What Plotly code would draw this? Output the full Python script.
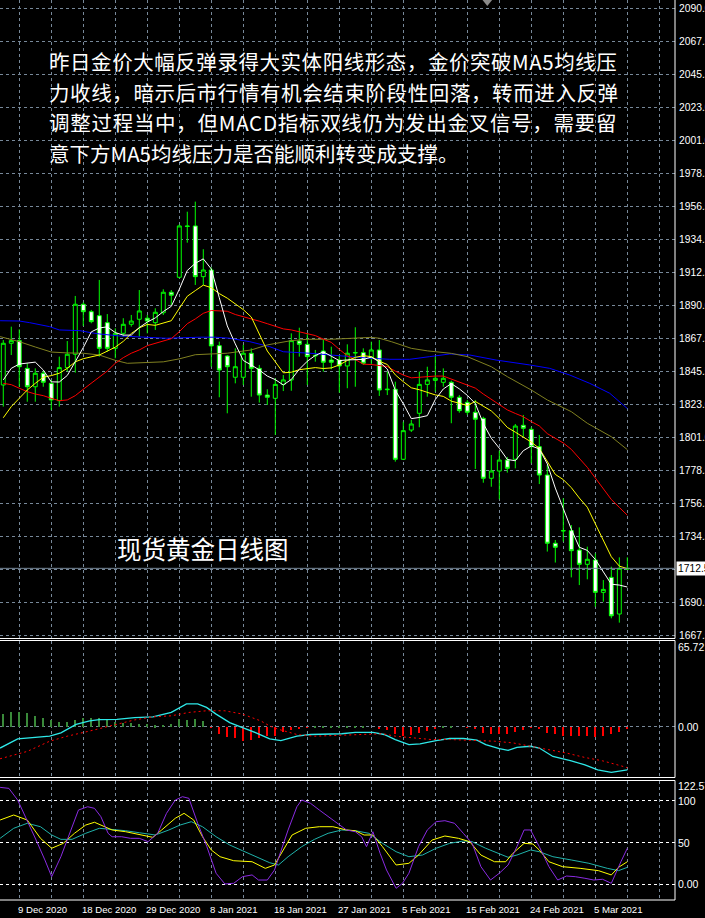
import plotly.graph_objects as go

# ---------------- data ----------------
bar_idx = list(range(79))
open_ = [1836.4, 1864.5, 1866.3, 1847.6, 1835.2, 1844.3, 1837.5, 1825.8, 1848.1, 1857.1,
         1890.8, 1885.8, 1883.1, 1878.4, 1861.1, 1871.2, 1877.3, 1880.7, 1881.4, 1878.4,
         1885.1, 1898.9, 1909.0, 1943.6, 1943.6, 1909.4, 1913.9, 1862.9, 1855.9, 1841.6,
         1841.6, 1857.8, 1847.6, 1829.6, 1827.4, 1836.8, 1839.8, 1866.0, 1863.8, 1856.3,
         1859.3, 1853.2, 1853.2, 1849.2, 1858.0, 1858.2, 1855.0, 1860.0, 1833.2, 1833.5,
         1786.3, 1806.0, 1817.3, 1836.8, 1839.5, 1838.2, 1838.2, 1828.1, 1824.7, 1818.0,
         1813.9, 1773.5, 1778.4, 1785.8, 1786.3, 1809.2, 1806.5, 1794.8, 1775.7, 1729.7,
         1738.0, 1738.2, 1725.1, 1715.5, 1718.4, 1696.6, 1706.7, 1682.0, 1712.8]
high = [1866.7, 1875.7, 1873.9, 1851.0, 1847.6, 1845.8, 1839.8, 1855.5, 1866.0, 1896.4,
        1892.1, 1887.0, 1907.2, 1884.2, 1874.6, 1881.4, 1883.6, 1900.4, 1883.6, 1888.1,
        1900.9, 1900.4, 1944.5, 1953.2, 1960.0, 1927.9, 1915.7, 1865.6, 1856.6, 1861.1,
        1863.4, 1861.1, 1849.9, 1833.5, 1841.0, 1843.1, 1871.2, 1875.0, 1871.2, 1860.0,
        1866.7, 1862.2, 1856.6, 1863.8, 1875.3, 1861.1, 1865.6, 1866.7, 1845.4, 1838.6,
        1811.6, 1812.8, 1845.4, 1848.7, 1855.5, 1847.6, 1839.3, 1829.6, 1826.3, 1826.3,
        1815.0, 1789.2, 1792.1, 1787.8, 1810.1, 1816.2, 1807.9, 1802.7, 1782.5, 1731.9,
        1760.0, 1742.0, 1740.4, 1727.4, 1722.9, 1704.9, 1713.9, 1720.2, 1720.2]
low = [1821.8, 1856.6, 1835.2, 1825.1, 1825.1, 1835.2, 1819.5, 1821.8, 1845.4, 1844.7,
       1876.2, 1878.0, 1855.5, 1858.8, 1854.4, 1868.9, 1875.7, 1868.9, 1871.2, 1873.5,
       1883.6, 1890.3, 1908.3, 1932.3, 1903.8, 1903.8, 1848.7, 1828.1, 1817.3, 1837.5,
       1836.4, 1828.5, 1824.5, 1822.9, 1802.7, 1832.3, 1832.5, 1855.5, 1836.4, 1852.1,
       1845.4, 1847.0, 1831.2, 1834.2, 1835.2, 1849.9, 1849.9, 1829.0, 1829.6, 1784.7,
       1785.8, 1804.7, 1807.9, 1828.5, 1831.9, 1835.2, 1810.6, 1817.7, 1816.2, 1779.8,
       1770.5, 1767.8, 1759.3, 1777.3, 1780.2, 1801.5, 1783.6, 1769.6, 1724.1, 1716.7,
       1730.8, 1706.7, 1701.5, 1705.4, 1686.9, 1690.3, 1679.1, 1676.2, 1712.0]
close = [1864.5, 1866.3, 1848.7, 1835.2, 1844.3, 1838.2, 1826.3, 1848.1, 1857.1, 1890.8,
         1885.8, 1879.1, 1861.1, 1861.1, 1871.2, 1877.3, 1879.5, 1886.3, 1879.5, 1885.4,
         1898.9, 1896.9, 1943.6, 1943.3, 1909.4, 1913.9, 1862.7, 1846.5, 1848.7, 1848.7,
         1857.8, 1847.6, 1829.6, 1828.1, 1836.8, 1839.8, 1866.3, 1863.8, 1855.5, 1856.1,
         1851.7, 1851.7, 1849.2, 1857.8, 1858.2, 1851.0, 1860.0, 1833.0, 1833.5, 1786.3,
         1805.6, 1810.1, 1836.8, 1839.8, 1840.9, 1840.9, 1828.1, 1819.1, 1818.0, 1813.3,
         1773.5, 1778.4, 1785.8, 1780.2, 1808.7, 1807.2, 1794.8, 1775.7, 1729.7, 1727.0,
         1738.2, 1724.7, 1715.5, 1718.9, 1696.6, 1698.6, 1680.8, 1712.8, 1712.4]

ma5 = [1839.8, 1847.6, 1850.5, 1851.0, 1851.8, 1846.5, 1838.5, 1838.4, 1842.8, 1852.1,
       1861.6, 1872.2, 1874.8, 1875.6, 1871.7, 1870.0, 1870.0, 1875.1, 1878.8, 1881.6,
       1885.9, 1889.4, 1900.9, 1913.6, 1918.4, 1921.4, 1914.6, 1895.2, 1876.2, 1864.1,
       1852.9, 1849.9, 1846.5, 1842.4, 1840.0, 1836.4, 1840.1, 1847.0, 1852.4, 1856.3,
       1858.7, 1855.8, 1852.8, 1853.3, 1853.7, 1853.6, 1855.2, 1852.0, 1847.1, 1832.8,
       1823.7, 1813.7, 1814.5, 1815.7, 1826.6, 1833.7, 1837.3, 1833.8, 1829.4, 1823.9,
       1810.4, 1800.5, 1793.8, 1786.2, 1785.3, 1792.1, 1795.3, 1793.3, 1783.2, 1766.9,
       1753.1, 1739.1, 1727.0, 1724.9, 1718.8, 1710.9, 1702.1, 1701.5, 1700.2]
ma10 = [1814.3, 1821.8, 1827.4, 1833.0, 1837.5, 1841.6, 1842.7, 1844.3, 1847.6, 1852.0,
        1854.1, 1855.4, 1856.6, 1859.2, 1861.9, 1865.8, 1871.1, 1874.9, 1877.2, 1876.6,
        1877.9, 1879.7, 1888.0, 1896.2, 1900.0, 1903.7, 1902.0, 1898.0, 1894.9, 1891.3,
        1887.2, 1882.2, 1870.8, 1859.3, 1852.0, 1844.6, 1845.0, 1846.7, 1847.4, 1848.1,
        1847.5, 1847.9, 1849.9, 1852.9, 1855.0, 1856.1, 1855.5, 1852.4, 1850.2, 1843.2,
        1838.6, 1834.5, 1833.2, 1831.4, 1829.7, 1828.7, 1825.5, 1824.1, 1822.6, 1825.3,
        1822.1, 1818.9, 1813.8, 1807.8, 1804.6, 1801.2, 1797.9, 1793.6, 1784.7, 1776.1,
        1772.6, 1767.2, 1760.2, 1754.0, 1742.8, 1732.0, 1720.6, 1714.3, 1712.6]
ma20 = [1837.5, 1836.6, 1834.2, 1831.9, 1830.3, 1829.2, 1827.4, 1825.8, 1826.3, 1829.2,
        1833.5, 1837.5, 1841.3, 1845.8, 1851.0, 1854.8, 1857.8, 1860.0, 1862.9, 1864.3,
        1866.0, 1867.6, 1872.3, 1877.7, 1880.9, 1884.7, 1886.6, 1886.5, 1886.1, 1883.9,
        1882.5, 1881.0, 1879.4, 1877.7, 1876.0, 1874.2, 1873.5, 1872.4, 1871.2, 1869.7,
        1867.3, 1865.1, 1860.4, 1856.1, 1853.5, 1850.4, 1850.2, 1849.6, 1848.8, 1845.7,
        1843.1, 1841.2, 1841.6, 1842.2, 1842.4, 1842.4, 1840.5, 1838.3, 1836.4, 1834.3,
        1830.3, 1826.7, 1823.5, 1819.6, 1817.2, 1815.0, 1811.7, 1808.8, 1803.6, 1800.7,
        1797.3, 1793.0, 1787.0, 1780.9, 1773.7, 1766.6, 1759.2, 1753.9, 1748.6]

olive_x = [-0.4, 2, 4, 6, 8, 10, 12, 14, 15.5, 18, 20, 22, 24, 26, 28, 31, 33, 36, 38,
           41, 43, 46, 47, 48.5, 51, 53, 56, 58, 61, 63, 66, 68, 71, 73, 76, 78]
olive_ma = [1869.0, 1865.6, 1862.0, 1858.6, 1858.0, 1857.8, 1856.6, 1853.0, 1851.0,
            1851.5, 1852.0, 1854.0, 1856.8, 1857.3, 1857.8, 1860.0, 1863.4, 1866.3,
            1867.2, 1867.2, 1867.9, 1868.5, 1867.9, 1865.6, 1861.1, 1859.4, 1857.7,
            1855.5, 1848.7, 1842.0, 1833.0, 1826.3, 1818.4, 1810.6, 1801.5, 1792.8]
blue_x = [-0.4, 2, 3.3, 4.6, 5.8, 7, 9.6, 11, 12, 14.6, 16.3, 18.3, 20.4, 24.6, 26.5,
          28.3, 30.8, 33.3, 35, 38.3, 40.8, 43.3, 45.8, 48.3, 50.8, 53.3, 55.8, 58.3,
          61.6, 65.8, 68.3, 70.8, 73.3, 75.8, 78]
blue_ma = [1879.7, 1879.5, 1878.4, 1876.8, 1875.7, 1873.5, 1873.0, 1871.6, 1870.8,
           1869.4, 1869.0, 1868.3, 1867.9, 1868.6, 1868.6, 1867.9, 1865.6, 1862.2,
           1858.8, 1857.8, 1856.6, 1855.5, 1854.4, 1853.7, 1853.7, 1855.5, 1857.3,
           1856.6, 1853.2, 1849.9, 1847.6, 1843.1, 1837.5, 1830.8, 1820.5]

macd_x = [-0.4, 1.8, 5.8, 7.2, 9.1, 10.8, 12, 14.2, 16.4, 18.7, 21, 22.1, 22.9, 24.3,
          25.4, 26.6, 28.3, 29.9, 31.6, 33.3, 34.7, 36.7, 38.4, 42.3, 44, 46.2, 47.6,
          49, 50.7, 52.1, 54.1, 55.8, 57.5, 59.2, 60.3, 62, 63.1, 64.2, 65.9, 67, 68.7,
          71, 72.7, 74.3, 76, 78]
macd_line = [-16.7, -9.6, -7.5, -4.9, 1.7, 4.3, 5.4, 5.6, 6.9, 7.5, 10.9, 14.8, 17.5,
             17.5, 14.8, 9.6, 3.0, -0.9, -4.9, -9.6, -10.9, -7.5, -6.2, -5.6, -4.6, -4.6,
             -6.2, -10.1, -14.0, -13.5, -10.9, -9.3, -9.3, -10.6, -14.0, -17.2, -18.5,
             -16.1, -15.3, -16.7, -23.2, -26.6, -29.8, -33.7, -35.5, -33.7]
signal_x = [-0.4, 3, 5.8, 8, 10.8, 14.2, 16.4, 18.7, 21, 23.2, 25.4, 27.7, 29.9, 32.2,
            33.3, 34.4, 36.7, 38.9, 42.3, 45.7, 47.4, 49, 51.3, 53.5, 55.8, 59.2, 61.4,
            63.7, 65.9, 68.2, 70.4, 72.7, 74.9, 77.1, 78]
signal_line = [-25.0, -19.3, -11.4, -7.5, -3.5, 1.7, 5.1, 7.5, 8.3, 10.9, 12.2, 12.2,
               9.6, 4.3, 0.4, -2.2, -6.2, -7.5, -6.7, -5.6, -5.6, -7.5, -8.8, -10.1,
               -10.1, -10.9, -11.4, -12.7, -15.3, -17.9, -20.6, -24.0, -26.6, -30.3, -31.9]
macd_hist = [10.0, 11.3, 11.8, 10.5, 8.9, 6.6, 5.2, 3.9, 3.9, 5.8, 6.8, 7.3, 6.6, 5.2,
             4.2, 3.1, 3.1, 2.1, 2.1, 1.3, 1.8, 2.6, 6.3, 5.8, 6.0, 4.7, -0.5, -5.2, -7.9,
             -8.4, -10.5, -10.0, -8.4, -7.3, -6.6, -3.9, -2.6, -1.3, -0.5, 0.3, 0.5, 0.5,
             0.3, 0.5, 0.5, 0.3, 0.0, -1.3, -2.6, -5.2, -6.6, -6.0, -4.7, -3.1, -1.3, 0.5,
             0.5, 0.0, -0.5, -1.3, -4.7, -5.2, -5.2, -5.8, -3.9, -2.1, -0.5, -1.3, -4.7,
             -5.8, -6.6, -7.1, -7.1, -7.3, -7.9, -6.8, -5.8, -3.9, -1.5]

k_x = [-0.4, 0.7, 1.8, 3.0, 4.1, 5.2, 6.05, 7.2, 8.3, 9.4, 10.55, 11.4, 12.2, 13.1, 13.6,
       14.8, 15.9, 17.0, 18.1, 19.3, 20.4, 21.5, 22.4, 23.2, 24.3, 25.45, 26.6, 27.7,
       28.8, 29.9, 31.1, 31.9, 33.0, 33.9, 35.6, 36.7, 37.3, 38.4, 39.5, 40.6, 41.75,
       42.9, 44.0, 44.8, 45.4, 46.2, 47.1, 47.9, 49.1, 49.9, 50.7, 51.9, 53.0, 54.1,
       55.2, 56.4, 57.5, 58.6, 59.7, 60.9, 62.0, 63.1, 64.2, 65.1, 65.9, 67.0, 68.2,
       69.3, 70.4, 71.5, 72.7, 73.8, 74.9, 76.0, 77.2, 78.0]
stoch_k = [116.0, 114.8, 100.8, 76.9, 53.0, 29.1, 9.1, 33.0, 61.0, 88.9, 92.8, 90.9,
           80.9, 61.0, 56.9, 56.9, 55.0, 55.0, 51.0, 61.0, 84.9, 100.8, 104.8, 102.9,
           73.0, 45.0, 13.2, 0.4, 1.2, 9.1, 11.2, 5.1, 5.1, 17.1, 65.0, 92.8, 100.8,
           96.9, 88.9, 80.9, 73.0, 65.0, 62.9, 56.9, 45.0, 62.9, 37.1, 17.1, -4.8, 1.2,
           13.2, 45.0, 65.0, 74.9, 76.1, 73.0, 61.0, 49.0, 21.1, 5.1, 13.2, 23.1, 45.0,
           65.0, 65.0, 45.0, 21.1, 5.1, 9.9, 9.1, 7.2, 5.1, 6.0, 1.2, 27.0, 43.1]
d_x = [-0.4, 1.3, 3.0, 4.65, 6.05, 7.5, 8.9, 10.3, 11.4, 12.5, 13.6, 15.3, 17.0, 18.7,
       19.8, 21.5, 22.6, 23.8, 24.9, 26.0, 27.1, 28.8, 31.1, 32.75, 33.9, 35.0, 36.1,
       37.8, 39.5, 41.2, 42.9, 44.0, 45.1, 46.2, 47.4, 49.1, 50.7, 51.9, 53.6, 55.2,
       56.9, 58.3, 59.7, 61.4, 62.8, 63.7, 65.1, 66.2, 67.0, 68.2, 69.9, 72.1, 74.4,
       76.0, 76.9, 78.0]
stoch_d = [76.9, 82.9, 76.9, 55.0, 43.1, 49.0, 61.0, 70.9, 74.2, 69.7, 65.0, 62.9, 59.8,
           56.2, 65.0, 79.0, 84.9, 76.9, 56.9, 41.0, 33.0, 28.2, 27.0, 19.1, 23.1, 41.0,
           59.0, 67.0, 68.9, 68.9, 65.0, 64.1, 59.0, 59.0, 45.0, 23.1, 25.1, 35.0, 53.0,
           57.8, 55.0, 51.0, 35.0, 27.0, 27.0, 37.1, 49.0, 48.2, 41.0, 27.0, 21.1, 19.1,
           16.3, 11.2, 20.3, 27.0]
s_x = [-0.4, 1.3, 3.0, 4.65, 6.05, 7.2, 8.6, 10.3, 12.0, 13.6, 15.3, 17.0, 19.0, 20.7,
       22.1, 23.5, 24.9, 26.6, 28.3, 29.9, 31.6, 33.3, 34.4, 35.6, 37.3, 38.9, 40.6,
       42.3, 44.0, 45.7, 47.4, 49.1, 50.7, 52.4, 54.1, 55.8, 57.5, 58.6, 60.3, 62.0,
       63.1, 64.2, 65.9, 67.0, 68.7, 71.0, 73.2, 75.5, 76.9, 78.0]
stoch_s = [55.0, 67.0, 73.0, 68.9, 59.0, 53.8, 53.8, 61.0, 67.0, 65.8, 64.1, 61.7, 59.0,
           65.0, 70.9, 74.9, 68.9, 56.9, 47.0, 40.2, 33.0, 25.8, 23.1, 33.0, 45.0, 53.8,
           61.0, 65.0, 64.1, 61.0, 49.0, 39.0, 33.0, 35.0, 43.1, 49.0, 51.8, 51.0, 43.1,
           36.2, 32.3, 35.0, 41.0, 39.0, 33.0, 29.1, 25.1, 19.1, 16.3, 20.3]

price_ticks = [1667.5, 1689.75, 1712.0, 1734.25, 1756.5, 1778.75, 1801.0, 1823.25,
               1845.5, 1867.75, 1890.0, 1912.25, 1934.5, 1956.75, 1979.0, 2001.25,
               2023.5, 2045.75, 2068.0, 2090.25]
price_labels = ["1667.5", "1690.0", "", "1734.5", "1756.5", "1778.5", "1801.0", "1823.0",
                "1845.5", "1867.5", "1890.0", "1912.5", "1934.5", "1956.5", "1978.5",
                "2001.0", "2023.0", "2045.5", "2067.5", "2090.0"]
last_price = 1712.8
last_price_label = "1712.52"
date_idx = [-6, 2, 10, 18, 26, 34, 42, 50, 58, 66, 74]
date_labels = ["30 Nov 2020", "9 Dec 2020", "18 Dec 2020", "29 Dec 2020", "8 Jan 2021",
               "18 Jan 2021", "27 Jan 2021", "5 Feb 2021", "15 Feb 2021", "24 Feb 2021",
               "5 Mar 2021"]
grid_idx = list(range(2, 84, 4))
macd_labels = [(65.72, "65.72", -5), (0.0, "0.00", 0), (-39.73, "-39.73", 5)]
stoch_labels = [(122.57, "122.57", -4), (100, "100", 0), (50, "50", 0), (0, "0.00", 0),
                (-19.17, "-19.17", 10)]

text_lines = ["昨日金价大幅反弹录得大实体阳线形态，金价突破MA5均线压",
              "力收线，暗示后市行情有机会结束阶段性回落，转而进入反弹",
              "调整过程当中，但MACD指标双线仍为发出金叉信号，需要留",
              "意下方MA5均线压力是否能顺利转变成支撑。"]
text_spacing = [0.55, 0.6, 0.72, 0.0]
chart_title = "现货黄金日线图"

# ---------------- layout geometry ----------------
W, H = 705, 918
ML, MR, MT, MB = 0, 30, 0, 18
PW, PH = W - ML - MR, H - MT - MB
def py(p):  # pixel row -> paper y
    return 1 - p / PH
def px(p):  # pixel col -> paper x
    return p / PW

GRID = "#778899"
XR = [-0.41, 83.96]

fig = go.Figure()

fig.add_trace(go.Candlestick(
    x=bar_idx, open=open_, high=high, low=low, close=close,
    increasing=dict(line=dict(color="#00ff00", width=1), fillcolor="#000000"),
    decreasing=dict(line=dict(color="#00ff00", width=1), fillcolor="#ffffff"),
    whiskerwidth=0, xaxis="x", yaxis="y", hoverinfo="skip", showlegend=False))

for xs, ys, col in [(blue_x, blue_ma, "#0000ff"), (olive_x, olive_ma, "#808020"),
                    (bar_idx, ma20, "#ff0000"), (bar_idx, ma10, "#ffff00"),
                    (bar_idx, ma5, "#ffffff")]:
    fig.add_trace(go.Scatter(x=xs, y=ys, mode="lines", line=dict(color=col, width=1),
                             xaxis="x", yaxis="y", hoverinfo="skip", showlegend=False))

fig.add_trace(go.Bar(x=bar_idx, y=macd_hist, width=0.13,
                     marker=dict(color=["#3a8a3a" if v >= 0 else "#ff0000" for v in macd_hist],
                                 line=dict(width=0)),
                     xaxis="x2", yaxis="y2", hoverinfo="skip", showlegend=False))
fig.add_trace(go.Scatter(x=macd_x, y=macd_line, mode="lines", line=dict(color="#2ee8e8", width=1.3),
                         xaxis="x2", yaxis="y2", hoverinfo="skip", showlegend=False))
fig.add_trace(go.Scatter(x=signal_x, y=signal_line, mode="lines",
                         line=dict(color="#ff0000", width=1, dash="2px,3px"),
                         xaxis="x2", yaxis="y2", hoverinfo="skip", showlegend=False))

for xs, ys, col in [(s_x, stoch_s, "#20b2aa"), (d_x, stoch_d, "#ffff00"), (k_x, stoch_k, "#8a2be2")]:
    fig.add_trace(go.Scatter(x=xs, y=ys, mode="lines", line=dict(color=col, width=1),
                             xaxis="x3", yaxis="y3", hoverinfo="skip", showlegend=False))

main_dom = [py(638.5), 1]
macd_dom = [py(777.5), py(640.5)]
st_dom = [0, py(780.5)]

xcommon = dict(range=XR, showticklabels=False, tickvals=grid_idx, showgrid=True,
               gridcolor=GRID, griddash="3px,3px", gridwidth=1, zeroline=False,
               showline=False, ticks="", fixedrange=True)
fig.update_layout(
    width=W, height=H, margin=dict(l=ML, r=MR, t=MT, b=MB, autoexpand=False),
    paper_bgcolor="#000000", plot_bgcolor="#000000", showlegend=False,
    bargap=0,
    xaxis=dict(**xcommon, domain=[0, 1], anchor="y", rangeslider=dict(visible=False)),
    xaxis2=dict(**xcommon, domain=[0, 1], anchor="y2"),
    xaxis3=dict(**xcommon, domain=[0, 1], anchor="y3"),
    yaxis=dict(domain=main_dom, range=[1665.5, 2095.9], tickvals=price_ticks,
               showticklabels=False, showgrid=True, gridcolor=GRID, griddash="3px,3px",
               zeroline=False, anchor="x", side="right", fixedrange=True),
    yaxis2=dict(domain=macd_dom, range=[-39.53, 66.67], tickvals=[0], showticklabels=False,
                showgrid=True, gridcolor=GRID, griddash="3px,3px", zeroline=False,
                anchor="x2", fixedrange=True),
    yaxis3=dict(domain=st_dom, range=[-18.8, 124.2], tickvals=[0, 50, 100],
                showticklabels=False, showgrid=True, gridcolor="#ffffff",
                griddash="3px,3px", zeroline=False, anchor="x3", fixedrange=True),
)

shapes = []
for y0, y1 in [(main_dom[0], 1.01), macd_dom, st_dom]:
    shapes.append(dict(type="rect", xref="paper", yref="paper", x0=-0.02, x1=1,
                       y0=y0, y1=y1, line=dict(color="#ffffff", width=1), fillcolor="rgba(0,0,0,0)"))
shapes.append(dict(type="line", xref="paper", yref="y", x0=0, x1=1, y0=last_price, y1=last_price,
                   line=dict(color=GRID, width=1)))
shapes.append(dict(type="path", xref="x", yref="paper",
                   path=f"M 59.9 1 L 61.1 1 L 60.5 {py(6)} Z", fillcolor="#8a8a8a",
                   line=dict(width=0)))
fig.update_layout(shapes=shapes)

ann = []
lab_font = dict(family="Liberation Sans, Arial", size=10.5, color="#ffffff")
price_font = dict(family="Liberation Sans, Arial", size=10.3, color="#ffffff")
date_font = dict(family="Liberation Sans, Arial", size=9.6, color="#ffffff")
for v, t in zip(price_ticks, price_labels):
    if t:
        ann.append(dict(xref="paper", yref="y", x=1, y=v, text=t, showarrow=False,
                        xanchor="left", yanchor="middle", xshift=2, font=price_font))
ann.append(dict(xref="paper", yref="y", x=1, y=last_price, text=last_price_label,
                showarrow=False, xanchor="left", yanchor="middle", xshift=1,
                bgcolor="#ffffff", borderpad=1,
                font=dict(family="Liberation Sans, Arial", size=10.3, color="#000000")))
for v, t, sh in macd_labels:
    ann.append(dict(xref="paper", yref="y2", x=1, y=v, text=t, showarrow=False,
                    xanchor="left", yanchor="middle", xshift=1, yshift=sh, font=lab_font))
for v, t, sh in stoch_labels:
    ann.append(dict(xref="paper", yref="y3", x=1, y=v, text=t, showarrow=False,
                    xanchor="left", yanchor="middle", xshift=1, yshift=sh, font=lab_font))
for i, t in zip(date_idx, date_labels):
    ann.append(dict(xref="x3", yref="paper", x=i, y=py(909), text=t, showarrow=False,
                    xanchor="left", yanchor="middle", xshift=-3, font=date_font))

cjk = "Noto Sans CJK SC"
for k, (line, sp) in enumerate(zip(text_lines, text_spacing)):
    txt = f'<span style="letter-spacing:{sp}px">{line}</span>' if sp else line
    ann.append(dict(xref="paper", yref="paper", x=px(47), y=py(61 + 30.7 * k), text=txt,
                    showarrow=False, xanchor="left", yanchor="middle",
                    font=dict(family=cjk, size=20.5, color="#ffffff")))
ann.append(dict(xref="paper", yref="paper", x=px(115), y=py(548), text=chart_title,
                showarrow=False, xanchor="left", yanchor="middle",
                font=dict(family=cjk, size=24.5, color="#ffffff")))
fig.update_layout(annotations=ann)

fig.write_html("out.html", config=dict(displayModeBar=False),
               post_script="document.body.style.margin='0';document.body.style.overflow='hidden';")
